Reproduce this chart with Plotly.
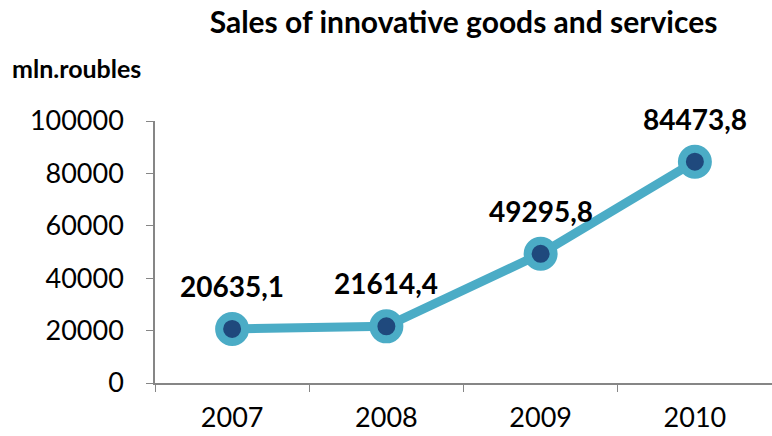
import plotly.graph_objects as go

years = ["2007", "2008", "2009", "2010"]
values = [20635.1, 21614.4, 49295.8, 84473.8]
labels = ["20635,1", "21614,4", "49295,8", "84473,8"]
y_ticks = [0, 20000, 40000, 60000, 80000, 100000]

FONT = "Lato"
fig = go.Figure()
fig.add_trace(go.Scatter(
    x=years, y=values, mode="lines+markers",
    line=dict(color="#4BACC6", width=9),
    marker=dict(size=26, color="#1F497D", line=dict(color="#4BACC6", width=8)),
    cliponaxis=False, hoverinfo="skip", showlegend=False,
))
for i, (y, t) in enumerate(zip(values, labels)):
    fig.add_annotation(x=i, y=y, text=t, showarrow=False, yshift=43,
                       font=dict(family=FONT, size=28, color="black", weight="bold"))

fig.add_annotation(xref="paper", yref="paper", x=-145/618, y=1 + (121-68)/262,
                   xanchor="left", yanchor="middle", text="mln.roubles", showarrow=False,
                   font=dict(family=FONT, size=25, color="black", weight="bold"))

fig.update_layout(
    width=772, height=436,
    margin=dict(l=155, r=0, t=121, b=53),
    paper_bgcolor="white", plot_bgcolor="white",
    title=dict(text="Sales of innovative goods and services", x=0.5, xref="paper",
               xanchor="center", y=1 - 22/436, yanchor="middle",
               font=dict(family=FONT, size=30, color="black", weight="bold")),
    xaxis=dict(type="category", range=[-0.5, 3.5], showgrid=False,
               showline=True, linecolor="#868686", linewidth=1.5,
               ticks="outside", ticklen=7, tickcolor="#868686", tickson="boundaries",
               tickfont=dict(family=FONT, size=27, color="black"), ticklabelstandoff=10),
    yaxis=dict(range=[0, 100000], tickvals=y_ticks, showgrid=False, zeroline=False,
               showline=True, linecolor="#868686", linewidth=1.5,
               ticks="outside", ticklen=7, tickcolor="#868686",
               tickfont=dict(family=FONT, size=27, color="black"), ticklabelstandoff=17,
               tickformat="d"),
)
fig.write_html("out.html", config={"displayModeBar": False},
               post_script="document.body.style.margin='0';")
